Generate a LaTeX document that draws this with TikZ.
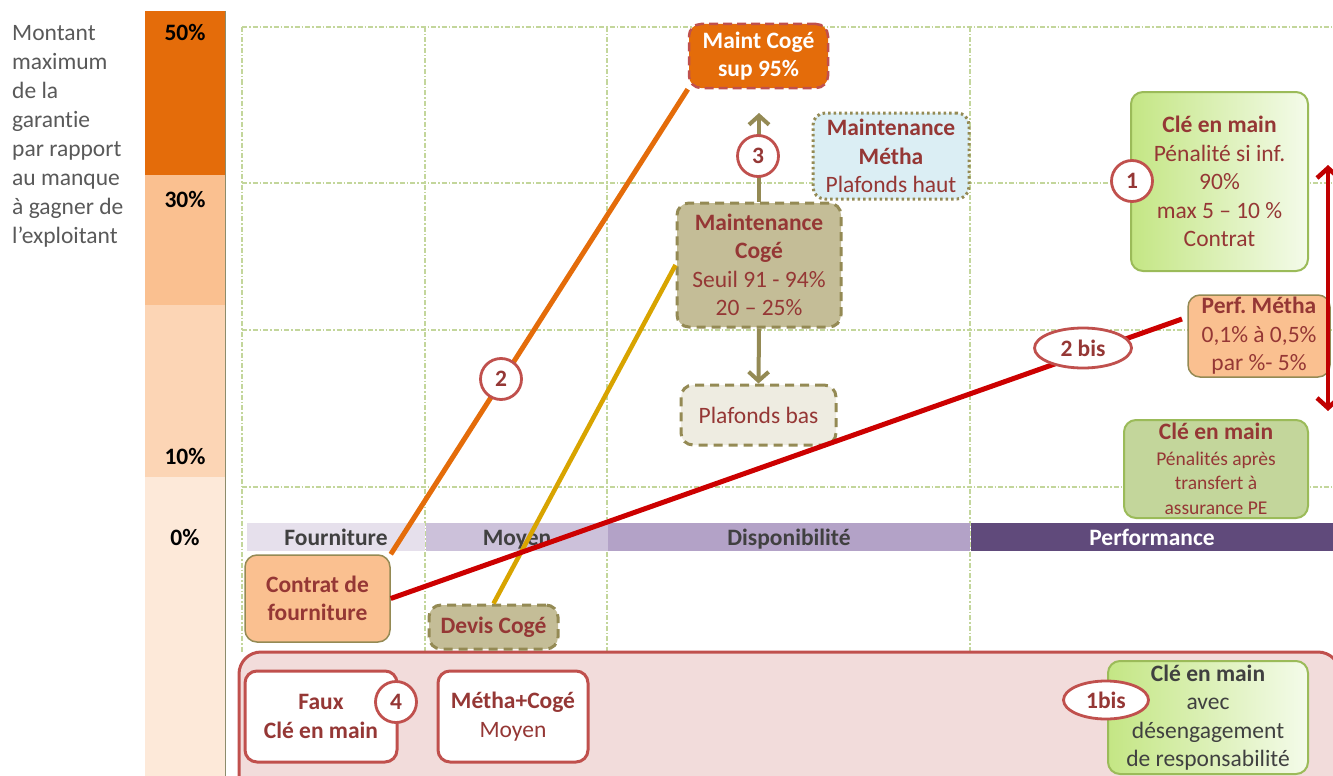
\documentclass[tikz,border=0pt]{standalone}
\usepackage{fontspec}
\setmainfont{Carlito}[Ligatures=NoCommon]
\usetikzlibrary{shapes.geometric,arrows.meta}
\definecolor{dred}{HTML}{953735}
\definecolor{redb}{HTML}{C0504D}
\definecolor{oliv}{HTML}{948A54}
\definecolor{gridc}{HTML}{C3D69B}
\definecolor{orgA}{HTML}{E46C0A}
\definecolor{orgB}{HTML}{FAC090}
\definecolor{orgC}{HTML}{FCD5B5}
\definecolor{orgD}{HTML}{FDE9D9}
\definecolor{tanA}{HTML}{C4BD97}
\definecolor{tanB}{HTML}{EEECE1}
\definecolor{lblue}{HTML}{DBEEF4}
\definecolor{gborder}{HTML}{9BBB59}
\definecolor{gfill}{HTML}{C3D69B}
\definecolor{gleft}{HTML}{C4E684}
\definecolor{gright}{HTML}{F4FBEA}
\definecolor{pinkA}{HTML}{F2DCDB}
\definecolor{goldA}{HTML}{D8A400}
\definecolor{lineRed}{HTML}{CC0000}
\definecolor{arrRed}{HTML}{C00000}
\definecolor{gtext}{HTML}{595959}
\definecolor{dtext}{HTML}{404040}
\definecolor{catA}{HTML}{E6E0EC}
\definecolor{catB}{HTML}{CCC1DA}
\definecolor{catC}{HTML}{B3A2C7}
\definecolor{catD}{HTML}{604A7B}
\definecolor{barline}{HTML}{8C8C6C}
\newcommand\fsmain{\fontsize{23.5}{28.5}\selectfont}
\newcommand\fsleft{\fontsize{23.5}{29}\selectfont}
\newcommand\fssmall{\fontsize{19.5}{23.5}\selectfont}
\frenchspacing
\begin{document}
\begin{tikzpicture}[x=1pt,y=-1pt,
  gridline/.style={draw=gridc, line width=1.3pt, dash pattern=on 5pt off 2pt on 1.5pt off 2pt},
  pct/.style={font=\fsmain\bfseries, text=black, inner sep=0pt, text height=16pt, text depth=0pt},
  cat/.style={font=\fsmain\bfseries, text=dtext, inner sep=0pt, text height=19pt, text depth=2pt},
  box/.style={rounded corners=12pt, align=center, inner sep=0pt, font=\fsmain, text=dred},
  dashbox/.style={box, draw=oliv, line width=3pt, dash pattern=on 9pt off 6pt},
  greenbox/.style={box, draw=gborder, line width=2pt, left color=gleft, right color=gright},
  whitebox/.style={box, draw=redb, line width=3pt, fill=white},
  num/.style={circle, draw=redb, line width=2.8pt, fill=white, minimum size=41pt, inner sep=0pt, font=\fsmain\bfseries, text=dred},
  numell/.style={ellipse, draw=redb, line width=2.8pt, fill=white, inner sep=0pt, font=\fsmain\bfseries, text=dred},
  oarrow/.style={draw=oliv, line width=4pt, -{Straight Barb[length=9pt,width=20pt]}},
]
\useasboundingbox (0,0) rectangle (1333,776);
\clip (0,0) rectangle (1333,776);

% left bar
\fill[orgA] (145,11) rectangle (225,175);
\fill[orgB] (145,175) rectangle (225,305);
\fill[orgC] (145,305) rectangle (225,477);
\fill[orgD] (145,477) rectangle (225,776);
\draw[barline, line width=0.8pt] (225,11) -- (225,776);
\node[pct] (p50) at (185,33) {50\%};
\node[pct] (p30) at (185,199) {30\%};
\node[pct] (p10) at (185,456) {10\%};
\node[pct] (p0) at (185,537) {0\%};

\node[anchor=north west, align=left, text=gtext, font=\fsleft, inner sep=0pt] (lefttext) at (12,25)
  {Montant\\maximum\\de la\\garantie\\par rapport\\au manque\\à gagner de\\l’exploitant};

% grid
\draw[gridline] (242,27) -- (1333,27);
\draw[gridline] (242,183) -- (1333,183);
\draw[gridline] (242,330) -- (1333,330);
\draw[gridline] (242,487) -- (1333,487);
\draw[gridline] (242,27) -- (242,652);
\draw[gridline] (425,27) -- (425,652);
\draw[gridline] (607,27) -- (607,652);
\draw[gridline] (970,27) -- (970,652);

% category bar
\node[cat, fill=catA, minimum width=178pt, minimum height=28pt] (fourn) at (336,537) {Fourniture};
\node[cat, fill=catB, minimum width=182pt, minimum height=28pt] (moyen) at (517,537) {Moyen};
\node[cat, fill=catC, minimum width=362pt, minimum height=28pt] (dispo) at (789,537) {Disponibilité};
\node[cat, fill=catD, text=white, minimum width=362pt, minimum height=28pt] (perfcat) at (1152,537) {Performance};

% bottom big box
\draw[draw=redb, fill=pinkA, line width=3pt, rounded corners=22pt] (239,652) rectangle (1340,800);

% boxes
\node[box, draw=redb, line width=2.5pt, dash pattern=on 9pt off 5pt, fill=orgA, text=white, font=\fsmain\bfseries,
  minimum width=139pt, minimum height=64pt] (maintcoge) at (758.5,56) {Maint Cogé\\sup 95\%};
\node[box, draw=oliv, line width=3pt, dash pattern=on 2.5pt off 3pt, fill=lblue,
  minimum width=156pt, minimum height=86pt] (mmetha) at (891,156) {\bfseries Maintenance\\\bfseries Métha\\Plafonds haut};
\node[dashbox, fill=tanA, minimum width=164pt, minimum height=124pt] (mcoge) at (759,265)
  {\bfseries Maintenance\\\bfseries Cogé\\Seuil 91 - 94\%\\20 – 25\%};
\node[dashbox, fill=tanB, minimum width=155pt, minimum height=60pt] (pbas) at (758.5,415) {Plafonds bas};
\node[greenbox, minimum width=177pt, minimum height=179pt] (cle1) at (1219.5,181.5)
  {\bfseries Clé en main\\Pénalité si inf.\\90\%\\max 5 – 10 \%\\Contrat};
\node[box, draw=oliv, line width=1.5pt, fill=orgB, minimum width=142pt, minimum height=82pt] (perf) at (1259,336)
  {\bfseries Perf. Métha\\0,1\% à 0,5\%\\par \%- 5\%};
\node[box, draw=gborder, line width=2pt, fill=gfill, minimum width=184pt, minimum height=98pt] (cle2) at (1216,469)
  {{\bfseries Clé en main}\\[-3pt]{\fssmall Pénalités après}\\[-4pt]{\fssmall transfert à}\\[-4pt]{\fssmall assurance PE}};
\node[box, draw=oliv, line width=1.5pt, fill=orgB, font=\fsmain\bfseries, minimum width=145pt, minimum height=87pt] (contrat) at (317.5,598.5)
  {Contrat de\\fourniture};
\node[dashbox, fill=tanA, font=\fsmain\bfseries, minimum width=129pt, minimum height=44pt] (devis) at (493.5,627) {Devis Cogé};
\node[whitebox, font=\fsmain\bfseries, minimum width=152pt, minimum height=91pt] (faux) at (321,716.5) {Faux\\Clé en main};
\node[whitebox, minimum width=150pt, minimum height=91pt] (mc) at (513,716.5) {\bfseries Métha+Cogé\\Moyen};
\node[greenbox, text=dtext, minimum width=200pt, minimum height=113pt] (cle3) at (1208,717.5)
  {\bfseries Clé en main\\avec\\désengagement\\de responsabilité};

% connectors
\coordinate (pmEnd) at (1182,319);
\coordinate (up3) at (759,113);
\coordinate (raTop) at (1328,165);
\coordinate (raBot) at (1328,411);
\draw[orgA, line width=5pt] (contrat.north east) -- (maintcoge.south west);
\draw[goldA, line width=4.5pt] (devis.north) -- (mcoge.west);
\draw[lineRed, line width=5pt] (contrat.east) -- (pmEnd);
\draw[oarrow] (mcoge.north) -- (up3);
\draw[oarrow] (mcoge.south) -- (pbas.north);
\draw[arrRed, line width=4.5pt, {Straight Barb[length=10pt,width=22pt]}-{Straight Barb[length=10pt,width=22pt]}] (raTop) -- (raBot);

% numbers
\node[num] (n2) at (501,379) {2};
\node[num] (n3) at (758,156) {3};
\node[num] (n1) at (1132,181) {1};
\node[num] (n4) at (396,702) {4};
\node[numell, minimum width=97pt, minimum height=40pt] (n2b) at (1083,348) {2 bis};
\node[numell, minimum width=85pt, minimum height=38pt] (n1b) at (1106,700) {1bis};
\end{tikzpicture}
\end{document}
